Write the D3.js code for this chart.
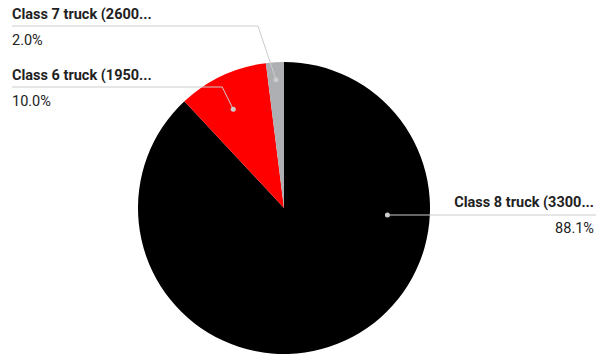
<!DOCTYPE html>
<html>
<head>
<meta charset="utf-8">
<script src="https://cdn.jsdelivr.net/npm/d3@7"></script>
<style>
  html, body { margin: 0; padding: 0; background: #fff; }
  svg { display: block; font-family: Roboto, "Noto Sans", sans-serif; }
</style>
</head>
<body>
<svg id="chart" width="596" height="356"></svg>
<script>
// Truck class shares (percent)
const categories = ["Class 8 truck (33000+ lbs)", "Class 6 truck (19501-26000 lbs)", "Class 7 truck (26001-33000 lbs)"];
const shortLabels = ["Class 8 truck (3300...", "Class 6 truck (1950...", "Class 7 truck (2600..."];
const values = [88.05, 9.97, 1.98];
const percentLabels = ["88.1%", "10.0%", "2.0%"];
const colors = ["#000000", "#ff0000", "#adafb2"];

const svg = d3.select("#chart");
const W = 596, H = 356;
const cx = 284, cy = 208, R = 146;
const fontSize = 14.5;

const data = categories.map((c, i) => ({ name: c, short: shortLabels[i], value: values[i], pct: percentLabels[i], color: colors[i] }));

const pie = d3.pie().sort(null).value(d => d.value);
const arc = d3.arc().innerRadius(0).outerRadius(R);
const arcs = pie(data);

const g = svg.append("g").attr("transform", `translate(${cx},${cy})`);
g.selectAll("path.slice")
  .data(arcs)
  .join("path")
  .attr("class", "slice")
  .attr("d", arc)
  .attr("fill", d => d.data.color);

// Label layout: side, label row, leader anchor inside slice
const labelLayout = [
  { side: "right", lineY: 215, dotR: 0.71 },
  { side: "left", lineY: 87, dotR: 0.76, along: 0.44, elbow: 11 },
  { side: "left", lineY: 26, dotR: 0.88, along: 0.5, elbow: 18 }
];

const lineColor = "#cccccc";
const labels = svg.append("g");

arcs.forEach((a, i) => {
  const L = labelLayout[i];
  let dx, dy;
  if (L.side === "right") {
    // anchor sits on the horizontal through the label row
    dy = L.lineY - cy;
    dx = Math.sqrt(Math.max(0, (L.dotR * R) ** 2 - dy * dy));
  } else {
    const ang = a.startAngle + (a.endAngle - a.startAngle) * L.along;
    dx = Math.sin(ang) * L.dotR * R;
    dy = -Math.cos(ang) * L.dotR * R;
  }
  const px = cx + dx, py = cy + dy;

  if (L.side === "right") {
    labels.append("line")
      .attr("x1", px).attr("y1", L.lineY).attr("x2", W).attr("y2", L.lineY)
      .attr("stroke", lineColor).attr("stroke-width", 1);
    labels.append("text")
      .attr("x", 594).attr("y", L.lineY - 8)
      .attr("text-anchor", "end")
      .attr("font-size", fontSize).attr("font-weight", "bold").attr("fill", "#222")
      .text(a.data.short);
    labels.append("text")
      .attr("x", 594).attr("y", L.lineY + 18)
      .attr("text-anchor", "end")
      .attr("font-size", fontSize).attr("fill", "#222")
      .text(a.data.pct);
  } else {
    const elbowX = px - L.elbow;
    labels.append("polyline")
      .attr("points", `12,${L.lineY} ${elbowX},${L.lineY} ${px},${py}`)
      .attr("fill", "none").attr("stroke", lineColor).attr("stroke-width", 1);
    labels.append("text")
      .attr("x", 12).attr("y", L.lineY - 7)
      .attr("font-size", fontSize).attr("font-weight", "bold").attr("fill", "#222")
      .text(a.data.short);
    labels.append("text")
      .attr("x", 12).attr("y", L.lineY + 19)
      .attr("font-size", fontSize).attr("fill", "#222")
      .text(a.data.pct);
  }
  labels.append("circle")
    .attr("cx", px).attr("cy", py).attr("r", 2.5)
    .attr("fill", lineColor);
});
</script>
</body>
</html>
